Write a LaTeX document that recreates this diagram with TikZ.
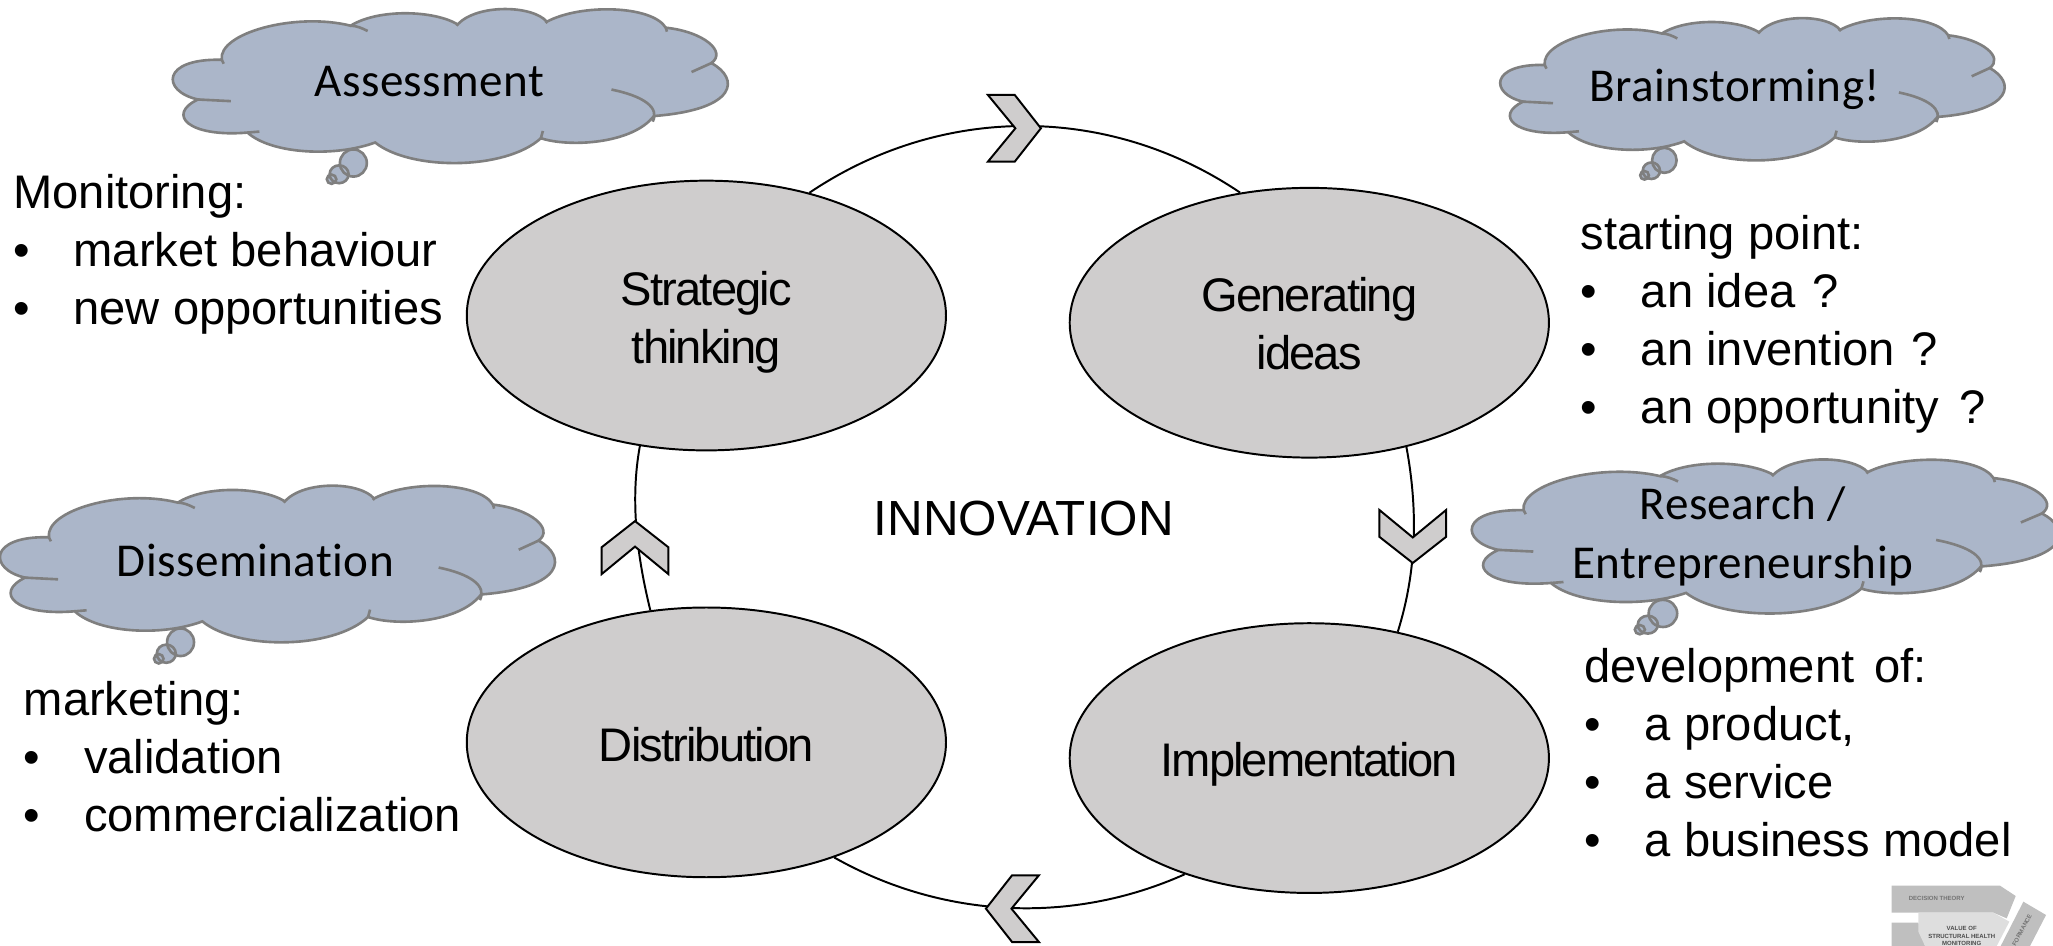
\documentclass[tikz,border=0pt]{standalone}
\usepackage{fontspec}
\setmainfont{Liberation Sans}
\newfontfamily\cloudfont[LetterSpace=1,Ligatures=NoCommon]{Carlito}
\newfontfamily\tightfont[LetterSpace=-4]{Liberation Sans}
\definecolor{ellfill}{HTML}{CFCDCD}
\definecolor{cloudfill}{HTML}{ABB6C9}
\definecolor{cloudline}{HTML}{7F7F7F}
\usetikzlibrary{shapes.geometric}
\tikzset{
  ell/.style={ellipse,draw=black,line width=1.5pt,fill=ellfill,minimum width=366pt,minimum height=206pt,inner sep=0pt,align=center,font=\tightfont\fontsize{36}{44.5}\selectfont},
  ringline/.style={draw=black,line width=1.5pt},
  chev/.style={draw=black,line width=1.5pt,fill=ellfill,line join=miter},
  cloudshape/.style={draw=cloudline,line width=2pt,fill=cloudfill},
  cloudtick/.style={draw=cloudline,line width=2pt},
  cloudtext/.style={inner sep=0pt,align=center,font=\cloudfont\fontsize{36}{45}\selectfont},
  bodytext/.style={anchor=north west,inner sep=0pt,align=left,font=\fontsize{36}{44.3}\selectfont},
  inset/.style={fill=#1,draw=none},
  insettext/.style={inner sep=0pt,align=center,text=black!70,font=\bfseries\fontsize{4.6}{6}\selectfont}
}
\newcommand\bul[1]{\makebox[46pt][l]{\textbullet}#1}
\newcommand\chevron[3]{%
  \path[chev,shift={(#1,#2)},rotate=#3] (0,0) -- (-20,25.5) -- (-40.5,25.5) -- (-19.5,0) -- (-40.5,-25.5) -- (-20,-25.5) -- cycle;}
\newcommand\thoughtcloud[4]{%
  \begin{scope}[shift={({#1-55*#3},{#2+18*#4})},xscale=#3,yscale=#4]
  \path[cloudshape] (185,-175) .. controls (175,-95) and (370,-30) .. (510,-72)
    .. controls (580,-20) and (720,-25) .. (780,-68)
    .. controls (830,-5) and (970,-10) .. (1005,-60)
    .. controls (1090,-5) and (1270,-10) .. (1305,-78)
    .. controls (1400,-90) and (1460,-150) .. (1420,-185)
    .. controls (1490,-230) and (1490,-325) .. (1275,-345)
    .. controls (1220,-430) and (1060,-440) .. (990,-412)
    .. controls (900,-510) and (660,-510) .. (572,-425)
    .. controls (470,-470) and (310,-460) .. (250,-395)
    .. controls (100,-410) and (45,-340) .. (125,-295)
    .. controls (32,-270) and (32,-170) .. (185,-175) -- cycle;
  \path[cloudtick] (510,-72) .. controls (525,-72) and (540,-80) .. (553,-88);
  \path[cloudtick] (1420,-185) -- (1370,-212);
  \path[cloudtick] (1168,-265) .. controls (1250,-285) and (1290,-320) .. (1272,-362);
  \path[cloudtick] (995,-390) -- (990,-412);
  \path[cloudtick] (250,-395) -- (280,-392);
  \path[cloudtick] (125,-295) -- (208,-300);
  \path[cloudtick] (185,-175) -- (190,-187);
  \path[cloudtick] (1305,-78) -- (1308,-90);
  \path[cloudtick] (780,-68) -- (777,-72);
  \path[cloudtick] (1005,-60) -- (1002,-64);
  \fill[cloudfill] (517,-487) ellipse [x radius=34,y radius=41];
  \fill[cloudfill] (481,-521) ellipse [x radius=24,y radius=27];
  \fill[cloudfill] (462,-536) ellipse [x radius=12,y radius=14];
  \path[cloudtick] (517,-487) ellipse [x radius=34,y radius=41];
  \path[cloudtick] (481,-521) ellipse [x radius=24,y radius=27];
  \path[cloudtick] (462,-536) ellipse [x radius=12,y radius=14];
  \end{scope}}
\begin{document}
\begin{tikzpicture}[x=1pt,y=1pt]
\useasboundingbox (0,0) rectangle (1568,722);
\clip (0,0) rectangle (1568,722);
% ellipses
\node[ell] (s) at (539.5,481) {\rule{0pt}{36pt}Strategic\\thinking};
\node[ell] (g) at (1000,475.5) {\rule{0pt}{28pt}Generating\\ideas};
\node[ell] (d) at (539.5,155) {\rule{0pt}{30pt}Distribution};
\node[ell] (i) at (1000,143) {\rule{0pt}{36pt}Implementation};
% ring
\draw[ringline] (s.50) to[out=34,in=146,distance=121.5] (g.118.5);
\draw[ringline] (g.-52.3) to[out=-79.5,in=72.6,distance=48.8] (i.55.8);
\draw[ringline] (i.223) to[out=-155.9,in=-29.5,distance=94.9] (d.-42.4);
\draw[ringline] (d.113.8) to[out=103.8,in=259.6,distance=42.2] (s.243.2);
% chevrons
\chevron{795}{624}{0}
\chevron{1079}{292}{-90}
\chevron{753}{28}{180}
\chevron{485}{324}{90}
% clouds
\thoughtcloud{130}{716}{.3028}{.2527}
\thoughtcloud{1144}{709}{.2752}{.2334}
\thoughtcloud{1122}{372}{.3205}{.2527}
\thoughtcloud{-2}{352}{.3028}{.257}
\node[cloudtext] (assess) at (328,660) {Assessment};
\node[cloudtext] (brain) at (1325,654) {Brainstorming!};
\node[cloudtext] (research) at (1331,312) {Research /\\Entrepreneurship};
\node[cloudtext] (dissem) at (195,294) {Dissemination};
% centre
\node[inner sep=0pt,font=\fontsize{37.7}{44}\selectfont] (inno) at (782,326) {INNOVATION};
% body text
\node[bodytext] (t1) at (10,589) {Monitoring:\\\bul{market behaviour}\\\bul{new opportunities}};
\node[bodytext] (t2) at (1207,558) {starting point:\\\bul{an idea\kern3pt\ ?}\\\bul{an invention\kern3pt\ ?}\\\bul{an opportunity\kern5pt\ ?}};
\node[bodytext] (t3) at (1210,227) {development\kern5pt\ of:\\\bul{a product,}\\\bul{a service}\\\bul{a business model}};
\node[bodytext] (t4) at (18,202) {marketing:\\\bul{validation}\\\bul{commercialization}};
% inset
\begin{scope}[shift={(1412.97,65.16)},scale=.2546]
\path[inset=black!25] (125,-77) -- (450,-77) -- (497,-108) -- (470,-175) -- (430,-158) -- (125,-158) -- cycle;
\path[inset=black!25] (125,-188) -- (205,-188) -- (225,-258) -- (125,-258) -- cycle;
\path[inset=black!13] (205,-158) -- (430,-158) -- (478,-185) -- (440,-258) -- (225,-258) -- (205,-215) -- cycle;
\path[inset=black!25] (520,-125) -- (588,-165) -- (540,-258) -- (452,-258) -- cycle;
\node[insettext,text=black!55] (it1) at (260,-116) {DECISION THEORY};
\node[insettext] (it2) at (335,-228) {VALUE OF\\STRUCTURAL HEALTH\\MONITORING};
\node[insettext,text=black!55,rotate=62] (it3) at (516,-210) {FORMANCE};
\end{scope}
\end{tikzpicture}
\end{document}
